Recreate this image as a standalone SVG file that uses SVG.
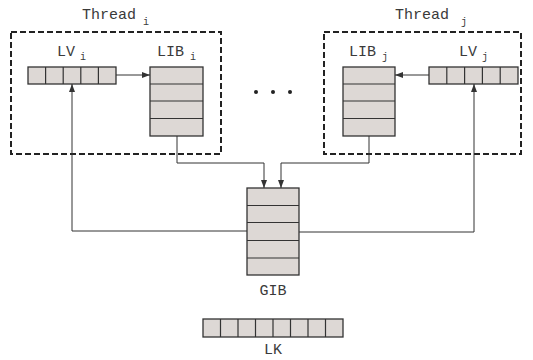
<svg xmlns="http://www.w3.org/2000/svg" width="533" height="360" viewBox="0 0 533 360">
<style>
.t{font-family:"Liberation Mono","Courier New",monospace;font-size:15px;fill:#3a3a3a}
.s{font-family:"Liberation Mono","Courier New",monospace;font-size:10px;fill:#3a3a3a}
.box{fill:none;stroke:#222;stroke-width:2;stroke-dasharray:6 3}
.cell{fill:#ddd8d5;stroke:#333;stroke-width:1.3}
.ln{fill:none;stroke:#333;stroke-width:1.2}
.c{fill:none;stroke:#333;stroke-width:1}
</style>
<defs>
<marker id="ah" viewBox="0 0 8 6" refX="8" refY="3" markerWidth="8" markerHeight="6" markerUnits="userSpaceOnUse" orient="auto">
<path d="M0,0 L8,3 L0,6 z" fill="#333"/>
</marker>
</defs>
<rect width="533" height="360" fill="#fff"/>
<g id="thread-i">
<rect class="box" x="11" y="32" width="210" height="122"/>
<text class="t" x="82" y="19">Thread</text><text class="s" x="143" y="25">i</text>
</g>
<g id="thread-j">
<rect class="box" x="324" y="32" width="197" height="122"/>
<text class="t" x="395" y="19">Thread</text><text class="s" x="461" y="25">j</text>
</g>
<g id="lv-i">
<text class="t" x="57" y="56">LV</text><text class="s" x="80" y="60">i</text>
<rect class="cell" x="28" y="67" width="88" height="17"/>
<path class="ln" d="M45.6,67V84M63.2,67V84M80.8,67V84M98.4,67V84"/>
</g>
<g id="lib-i">
<text class="t" x="157" y="56">LIB</text><text class="s" x="190" y="60">i</text>
<rect class="cell" x="150" y="67" width="53" height="69"/>
<path class="ln" d="M150,84H203M150,101H203M150,118.5H203"/>
</g>
<g id="lib-j">
<text class="t" x="349" y="56">LIB</text><text class="s" x="382" y="60">j</text>
<rect class="cell" x="343" y="67" width="52" height="69"/>
<path class="ln" d="M343,84H395M343,101H395M343,118.5H395"/>
</g>
<g id="lv-j">
<text class="t" x="459" y="56">LV</text><text class="s" x="482" y="60">j</text>
<rect class="cell" x="429" y="67" width="89" height="17"/>
<path class="ln" d="M446.8,67V84M464.6,67V84M482.4,67V84M500.2,67V84"/>
</g>
<g id="dots" fill="#222">
<circle cx="256" cy="92" r="2"/><circle cx="273" cy="92" r="2"/><circle cx="290" cy="92" r="2"/>
</g>
<g id="gib">
<rect class="cell" x="247" y="188" width="52" height="87"/>
<path class="ln" d="M247,205.5H299M247,222.5H299M247,240.5H299M247,258H299"/>
<text class="t" x="273" y="295" text-anchor="middle">GIB</text>
</g>
<g id="lk">
<rect class="cell" x="203" y="319" width="140" height="18"/>
<path class="ln" d="M220.5,319V337M238,319V337M255.5,319V337M273,319V337M290.5,319V337M308,319V337M325.5,319V337"/>
<text class="t" x="273" y="354" text-anchor="middle">LK</text>
</g>
<g id="connectors">
<path class="c" d="M116,75H150" marker-end="url(#ah)"/>
<path class="c" d="M429,75H395" marker-end="url(#ah)"/>
<path class="c" d="M177,136V163H264V188" marker-end="url(#ah)"/>
<path class="c" d="M369,136V163H281V188" marker-end="url(#ah)"/>
<path class="c" d="M247,231H72V84" marker-end="url(#ah)"/>
<path class="c" d="M299,232H474V84" marker-end="url(#ah)"/>
</g>
</svg>
